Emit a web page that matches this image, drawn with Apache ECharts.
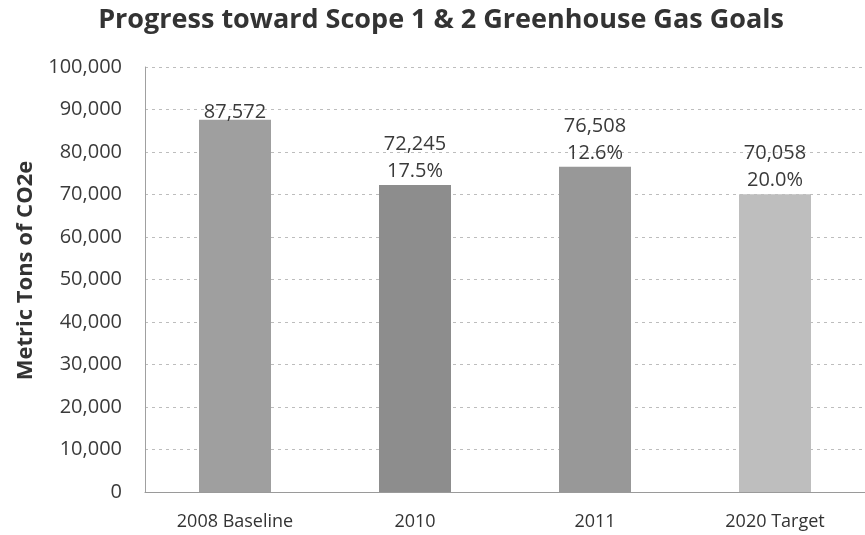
<!DOCTYPE html>
<html>
<head>
<meta charset="utf-8">
<script src="https://cdn.jsdelivr.net/npm/echarts@6/dist/echarts.min.js"></script>
<style>
  html, body { margin: 0; padding: 0; background: #fff; }
  #chart { width: 865px; height: 535px; }
</style>
</head>
<body>
<div id="chart"></div>
<script>
// Scope 1 & 2 emissions, metric tons CO2e
const categories = ['2008 Baseline', '2010', '2011', '2020 Target'];
const emissions = [87572, 72245, 76508, 70058];
const reductions = [null, '17.5%', '12.6%', '20.0%'];
const barColors = ['#9f9f9f', '#8d8d8d', '#989898', '#bebebe'];

const FONT = '"Open Sans", Lato, sans-serif';

const chart = echarts.init(document.getElementById('chart'));
chart.setOption({
  animation: false,
  backgroundColor: '#ffffff',
  title: {
    text: 'Progress toward Scope 1 & 2 Greenhouse Gas Goals',
    left: 436,
    top: 2,
    textAlign: 'center',
    textStyle: { fontFamily: FONT, fontSize: 27, fontWeight: 'bold', color: '#333333' }
  },
  grid: { left: 145, right: -8, top: 67, bottom: 43 },
  xAxis: {
    type: 'category',
    data: categories,
    axisLine: { lineStyle: { color: '#9a9a9a', width: 1 } },
    axisTick: { show: false },
    axisLabel: { fontFamily: FONT, fontSize: 18, color: '#333333', margin: 21 }
  },
  yAxis: {
    type: 'value',
    min: 0,
    max: 100000,
    interval: 10000,
    name: 'Metric Tons of CO2e',
    nameLocation: 'middle',
    nameGap: 108,
    nameTextStyle: {
      fontFamily: FONT, fontSize: 22, fontWeight: 'bold', color: '#333333',
      padding: [0, 0, 0, 18]
    },
    axisLine: { show: true, lineStyle: { color: '#a0a0a0', width: 1 } },
    axisTick: { show: false },
    axisLabel: {
      fontFamily: FONT, fontSize: 20, color: '#3a3a3a', margin: 23,
      formatter: v => v.toLocaleString('en-US')
    },
    splitLine: { lineStyle: { color: '#bdbdbd', type: [3, 4], width: 1 } }
  },
  series: [{
    type: 'bar',
    barWidth: 72,
    data: emissions.map((v, i) => ({
      value: v,
      itemStyle: { color: barColors[i] },
      label: { distance: reductions[i] ? 0 : -6 }
    })),
    label: {
      show: true,
      position: 'top',
      fontFamily: FONT,
      fontSize: 20,
      lineHeight: 27,
      color: '#3a3a3a',
      formatter: p => {
        const val = p.value.toLocaleString('en-US');
        const r = reductions[p.dataIndex];
        return r ? val + '\n' + r : val;
      }
    }
  }]
});
</script>
</body>
</html>
